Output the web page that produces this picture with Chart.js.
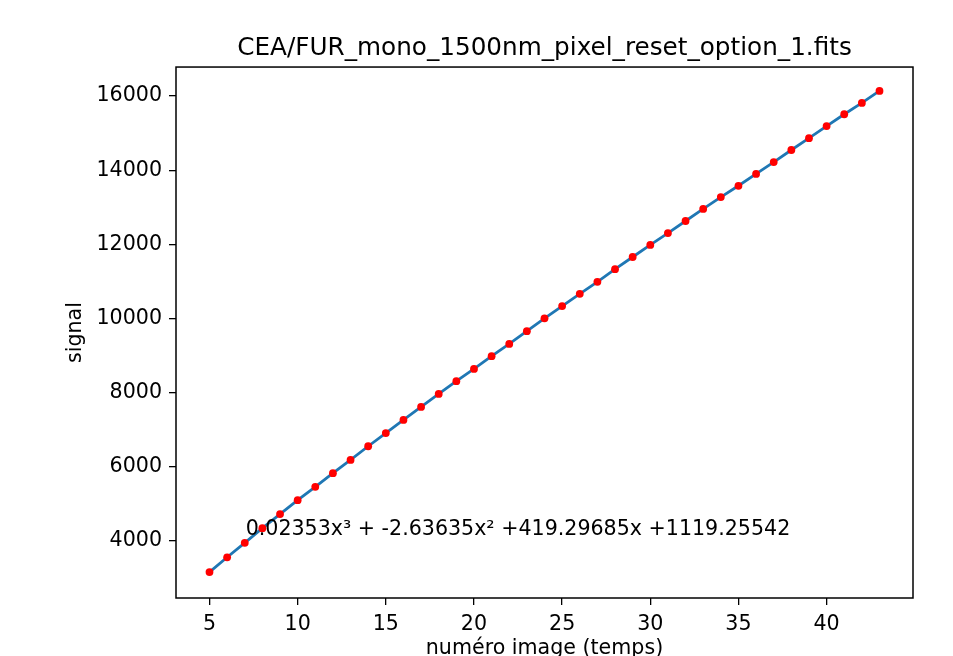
<!DOCTYPE html>
<html lang="fr">
  <head>
    <meta charset="UTF-8" />
    <title>CEA/FUR_mono_1500nm_pixel_reset_option_1.fits</title>
    <script src="https://cdn.jsdelivr.net/npm/chart.js"></script>
    <style>
      body { margin: 0; background: #fff; }
      #wrap { width: 953px; height: 656px; }
    </style>
  </head>
  <body>
    <div id="wrap"><canvas id="chart"></canvas></div>

    <script>
      const frames = [5, 6, 7, 8, 9, 10, 11, 12, 13, 14, 15, 16, 17, 18, 19, 20, 21, 22, 23, 24,
                      25, 26, 27, 28, 29, 30, 31, 32, 33, 34, 35, 36, 37, 38, 39, 40, 41, 42, 43];
      const signal = [3160, 3560, 3950, 4345, 4725, 5100, 5460, 5830, 6185, 6555, 6910, 7265, 7615, 7965, 8310, 8640, 8985, 9315, 9660, 10005,
                      10335, 10665, 10990, 11330, 11660, 11985, 12305, 12630, 12955, 13275, 13580, 13900, 14220, 14545, 14865, 15190, 15510, 15815, 16140];
      // polynomial fit curve, drawn through the same frames
      const fitSignal = signal.slice();

      const xTicks = [5, 10, 15, 20, 25, 30, 35, 40];
      const yTicks = [4000, 6000, 8000, 10000, 12000, 14000, 16000];

      const fitLabel = '0.02353x\u00B3 + -2.63635x\u00B2 +419.29685x +1119.25542';
      const fitLabelAt = { x: 7.05, y: 4160 };

      const FONT = "'DejaVu Sans', sans-serif";
      const TXT = 20.6;

      const framePlugin = {
        id: 'frame',
        afterDatasetsDraw(chart) {
          const a = chart.chartArea;
          const ctx = chart.ctx;
          ctx.save();
          ctx.strokeStyle = '#000';
          ctx.lineWidth = 1.5;
          ctx.strokeRect(a.left, a.top, a.right - a.left, a.bottom - a.top);

          // fit equation, placed in data coordinates
          ctx.fillStyle = '#000';
          ctx.font = TXT + 'px ' + FONT;
          ctx.textAlign = 'left';
          ctx.textBaseline = 'alphabetic';
          ctx.fillText(fitLabel,
            chart.scales.x.getPixelForValue(fitLabelAt.x),
            chart.scales.y.getPixelForValue(fitLabelAt.y));
          ctx.restore();
        }
      };

      const tickGrid = {
        drawOnChartArea: false,
        drawTicks: true,
        tickLength: 7,
        color: '#000',
        lineWidth: 1.3
      };

      new Chart(document.getElementById('chart'), {
        type: 'line',
        data: {
          datasets: [
            {
              label: 'points',
              data: frames.map((f, i) => ({ x: f, y: signal[i] })),
              showLine: false,
              pointRadius: 3.9,
              pointBackgroundColor: '#ff0000',
              pointBorderWidth: 0,
              order: 0
            },
            {
              label: 'fit',
              data: frames.map((f, i) => ({ x: f, y: fitSignal[i] })),
              borderColor: '#1f77b4',
              borderWidth: 2.8,
              pointRadius: 0,
              tension: 0,
              order: 1
            }
          ]
        },
        options: {
          responsive: true,
          maintainAspectRatio: false,
          animation: false,
          layout: { padding: { left: 0, right: 40, top: 0, bottom: 0 } },
          plugins: {
            legend: { display: false },
            tooltip: { enabled: false },
            title: {
              display: true,
              text: 'CEA/FUR_mono_1500nm_pixel_reset_option_1.fits',
              fullSize: false,
              color: '#000',
              font: { family: FONT, size: 24.7, weight: 'normal', lineHeight: 1.2 },
              padding: { top: 33.5, bottom: 3.9 }
            }
          },
          scales: {
            x: {
              type: 'linear',
              min: 3.1,
              max: 44.9,
              afterBuildTicks: s => { s.ticks = xTicks.map(v => ({ value: v })); },
              afterFit: s => { s.height = 58; },
              grid: tickGrid,
              border: { display: false },
              ticks: {
                color: '#000',
                padding: 7,
                maxRotation: 0,
                font: { family: FONT, size: TXT },
                callback: v => String(v)
              },
              title: {
                display: true,
                text: 'numéro image (temps)',
                color: '#000',
                font: { family: FONT, size: TXT, lineHeight: 0.7 },
                padding: 0
              }
            },
            y: {
              type: 'linear',
              min: 2462,
              max: 16783,
              afterBuildTicks: s => { s.ticks = yTicks.map(v => ({ value: v })); },
              afterFit: s => { s.width = 176; },
              grid: tickGrid,
              border: { display: false },
              ticks: {
                color: '#000',
                padding: 7,
                font: { family: FONT, size: TXT },
                callback: v => String(v)
              },
              title: {
                display: true,
                text: 'signal',
                color: '#000',
                font: { family: FONT, size: TXT, lineHeight: 1.2 },
                padding: { top: 63, bottom: 0 }
              }
            }
          }
        },
        plugins: [framePlugin]
      });
    </script>
  </body>
</html>
